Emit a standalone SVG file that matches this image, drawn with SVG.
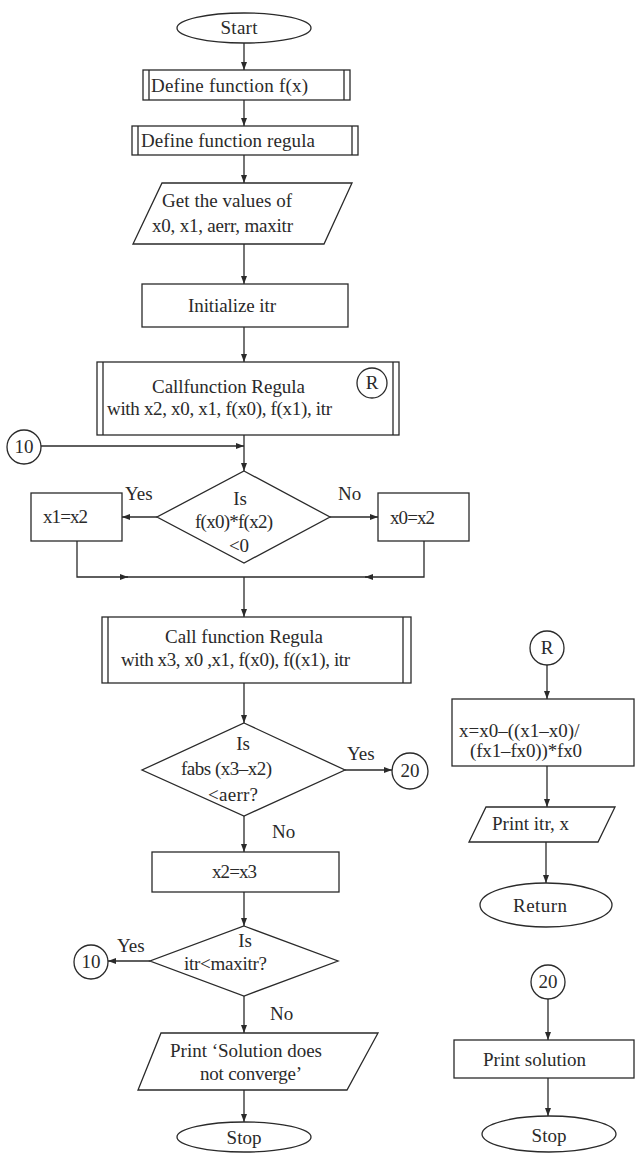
<svg xmlns="http://www.w3.org/2000/svg" width="635" height="1153" viewBox="0 0 635 1153">
<style>
.s{fill:#fff;stroke:#2a2a2a;stroke-width:1.3}
.n{fill:none;stroke:#2a2a2a;stroke-width:1.3}
.c{fill:none;stroke:#2a2a2a;stroke-width:1.3}
text{font-family:"Liberation Serif","Times New Roman",serif;font-size:19px;fill:#2a2a2a}
.m{text-anchor:middle}
</style>
<defs>
<marker id="ah" markerWidth="8" markerHeight="6" refX="8" refY="3" orient="auto" markerUnits="userSpaceOnUse">
<path d="M0,0 L8,3 L0,6 Z" fill="#2a2a2a"/>
</marker>
</defs>
<rect width="635" height="1153" fill="#fff"/>
<g id="connectors">
<path class="c" d="M244,43 V70" marker-end="url(#ah)"/>
<path class="c" d="M244,100 V126" marker-end="url(#ah)"/>
<path class="c" d="M244,155 V183" marker-end="url(#ah)"/>
<path class="c" d="M244,244 V284" marker-end="url(#ah)"/>
<path class="c" d="M244,327 V362" marker-end="url(#ah)"/>
<path class="c" d="M244,435 V471" marker-end="url(#ah)"/>
<path class="c" d="M41,446 H244" marker-end="url(#ah)"/>
<path class="c" d="M157,517 H122" marker-end="url(#ah)"/>
<path class="c" d="M330,517 H378" marker-end="url(#ah)"/>
<path class="c" d="M77,541 V577 H128" marker-end="url(#ah)"/>
<path class="c" d="M126,577 H244"/>
<path class="c" d="M424,541 V577 H365" marker-end="url(#ah)"/>
<path class="c" d="M367,577 H244"/>
<path class="c" d="M244,577 V617" marker-end="url(#ah)"/>
<path class="c" d="M244,683 V723" marker-end="url(#ah)"/>
<path class="c" d="M345,770 H392" marker-end="url(#ah)"/>
<path class="c" d="M244,816 V852" marker-end="url(#ah)"/>
<path class="c" d="M244,892 V926" marker-end="url(#ah)"/>
<path class="c" d="M150,961 H108" marker-end="url(#ah)"/>
<path class="c" d="M244,996 V1033" marker-end="url(#ah)"/>
<path class="c" d="M244,1090 V1122" marker-end="url(#ah)"/>
<path class="c" d="M547,665 V699" marker-end="url(#ah)"/>
<path class="c" d="M547,766 V807" marker-end="url(#ah)"/>
<path class="c" d="M546,842 V883" marker-end="url(#ah)"/>
<path class="c" d="M548,999 V1040" marker-end="url(#ah)"/>
<path class="c" d="M548,1078 V1116" marker-end="url(#ah)"/>
</g>
<g id="labels">
<text x="125" y="500">Yes</text>
<text x="338" y="500">No</text>
<text x="347" y="760">Yes</text>
<text x="272" y="838">No</text>
<text x="117" y="952">Yes</text>
<text x="270" y="1020">No</text>
</g>
<g id="start">
<ellipse class="s" cx="244" cy="28" rx="67" ry="15"/>
<text class="m" x="239" y="34" textLength="37">Start</text>
</g>
<g id="define-fx">
<rect class="s" x="143" y="70" width="207" height="30"/>
<path class="n" d="M149,70 V100 M344,70 V100"/>
<text x="151" y="92" textLength="157">Define function f(x)</text>
</g>
<g id="define-regula">
<rect class="s" x="132" y="126" width="226" height="29"/>
<path class="n" d="M138,126 V155 M352,126 V155"/>
<text x="141" y="147" textLength="174">Define function regula</text>
</g>
<g id="get-values">
<polygon class="s" points="162,183 352,183 324,244 133,244"/>
<text x="162" y="207" textLength="130">Get the values of</text>
<text x="152" y="232" textLength="141">x0, x1, aerr, maxitr</text>
</g>
<g id="init-itr">
<rect class="s" x="142" y="284" width="206" height="43"/>
<text x="188" y="312" textLength="88">Initialize itr</text>
</g>
<g id="call-regula-1">
<rect class="s" x="97" y="362" width="302" height="73"/>
<path class="n" d="M103,362 V435 M393,362 V435"/>
<text x="152" y="393" textLength="153">Callfunction Regula</text>
<text x="107" y="415" textLength="225">with x2, x0, x1, f(x0), f(x1), itr</text>
<circle class="s" cx="372" cy="383" r="15"/>
<text class="m" x="372" y="389">R</text>
</g>
<g id="conn-10-in">
<circle class="s" cx="24" cy="447" r="17"/>
<text class="m" x="24" y="453">10</text>
</g>
<g id="decision-1">
<polygon class="s" points="244,471 330,517 244,563 157,517"/>
<text class="m" x="240" y="505">Is</text>
<text x="195" y="528" textLength="78">f(x0)*f(x2)</text>
<text class="m" x="239" y="552">&lt;0</text>
</g>
<g id="x1-x2">
<rect class="s" x="31" y="493" width="91" height="48"/>
<text x="43" y="523" textLength="45">x1=x2</text>
</g>
<g id="x0-x2">
<rect class="s" x="378" y="493" width="91" height="48"/>
<text x="390" y="524" textLength="45">x0=x2</text>
</g>
<g id="call-regula-2">
<rect class="s" x="102" y="617" width="309" height="66"/>
<path class="n" d="M108,617 V683 M403,617 V683"/>
<text x="165" y="643" textLength="158">Call function Regula</text>
<text x="121" y="666" textLength="229">with x3, x0 ,x1, f(x0), f((x1), itr</text>
</g>
<g id="decision-2">
<polygon class="s" points="244,723 345,770 244,816 142,770"/>
<text class="m" x="243" y="750">Is</text>
<text x="181" y="775" textLength="91">fabs (x3–x2)</text>
<text x="208" y="801" textLength="50">&lt;aerr?</text>
</g>
<g id="conn-20-out">
<circle class="s" cx="410" cy="771" r="18"/>
<text class="m" x="410" y="777">20</text>
</g>
<g id="x2-x3">
<rect class="s" x="152" y="852" width="187" height="40"/>
<text x="212" y="878" textLength="45">x2=x3</text>
</g>
<g id="decision-3">
<polygon class="s" points="244,926 338,961 244,996 150,961"/>
<text class="m" x="245" y="947">Is</text>
<text x="184" y="970" textLength="83">itr&lt;maxitr?</text>
</g>
<g id="conn-10-out">
<circle class="s" cx="91" cy="962" r="17"/>
<text class="m" x="91" y="968">10</text>
</g>
<g id="print-no-converge">
<polygon class="s" points="161,1033 378,1033 347,1090 138,1090"/>
<text x="170" y="1057" textLength="152">Print ‘Solution does</text>
<text x="200" y="1080" textLength="102">not converge’</text>
</g>
<g id="stop-1">
<ellipse class="s" cx="244" cy="1137" rx="67" ry="15"/>
<text class="m" x="244" y="1144">Stop</text>
</g>
<g id="conn-R">
<circle class="s" cx="547" cy="648" r="17"/>
<text class="m" x="547" y="654">R</text>
</g>
<g id="compute-x">
<rect class="s" x="452" y="699" width="182" height="67"/>
<text x="459" y="737">x=x0–((x1–x0)/</text>
<text x="470" y="757" textLength="112">(fx1–fx0))*fx0</text>
</g>
<g id="print-itr-x">
<polygon class="s" points="486,807 615,807 598,842 469,842"/>
<text x="492" y="830" textLength="77">Print itr, x</text>
</g>
<g id="return">
<ellipse class="s" cx="546" cy="905" rx="66" ry="22"/>
<text x="513" y="912" textLength="54">Return</text>
</g>
<g id="conn-20-in">
<circle class="s" cx="548" cy="982" r="17"/>
<text class="m" x="548" y="988">20</text>
</g>
<g id="print-solution">
<rect class="s" x="454" y="1040" width="180" height="38"/>
<text x="483" y="1066" textLength="103">Print solution</text>
</g>
<g id="stop-2">
<ellipse class="s" cx="549" cy="1134" rx="67" ry="18"/>
<text class="m" x="549" y="1142">Stop</text>
</g>
</svg>
